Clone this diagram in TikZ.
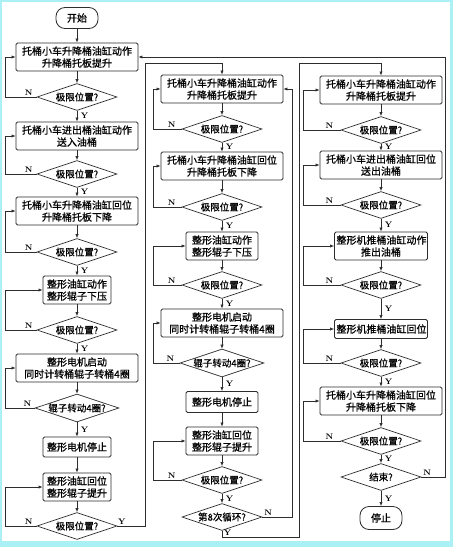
\documentclass[tikz,border=0pt]{standalone}
\usepackage{fontspec}
\newfontfamily\cjk[FakeBold=0.8]{Noto Sans CJK SC}
\usetikzlibrary{shapes.geometric,arrows.meta,positioning,calc}
\definecolor{framecyan}{RGB}{170,240,245}
\definecolor{inkgray}{RGB}{45,45,45}

\tikzset{
  procbox/.style={draw=inkgray, line width=0.8pt, rounded corners=1.5pt, align=center,
    text width=#1, inner xsep=2pt, inner ysep=1pt, minimum height=28pt,
    font=\cjk\fontsize{10}{12}\selectfont},
  procbox/.default=64pt,
  widebox/.style={procbox=118pt},
  decision/.style={diamond, draw=inkgray, line width=0.7pt, aspect=3, inner sep=0pt,
    minimum width=80pt, minimum height=27pt, font=\cjk\fontsize{9.5}{11}\selectfont},
  terminal/.style={draw=inkgray, line width=0.8pt, rounded corners=9pt, minimum width=42pt,
    minimum height=21pt, inner sep=1pt, font=\cjk\fontsize{10}{12}\selectfont},
  flow/.style={draw=inkgray, line width=0.6pt, -{Latex[length=4pt,width=3.2pt]}},
  yn/.style={font=\bfseries\fontsize{8}{8}\selectfont, inner sep=1.5pt}
}

\begin{document}
\begin{tikzpicture}[x=1pt, y=-1pt]
\useasboundingbox (0,0) rectangle (453,547);
\fill[framecyan] (0,0) rectangle (453,547); % frame
\fill[white] (2,1.5) rectangle (450,541);

% Column 1
\node[terminal] (c1start) at (77,18) {开始};
\node[widebox] (c1b1) at (77,57) {托桶小车升降桶油缸动作\\升降桶托板提升};
\node[decision] (c1d1) at (77,97) {极限位置?};
\node[widebox] (c1b2) at (77,136) {托桶小车进出桶油缸动作\\送入油桶};
\node[decision] (c1d2) at (77,174) {极限位置?};
\node[widebox] (c1b3) at (77,211) {托桶小车升降桶油缸回位\\升降桶托板下降};
\node[decision] (c1d3) at (77,252) {极限位置?};
\node[procbox] (c1b4) at (77,290) {整形油缸动作\\整形辊子下压};
\node[decision] (c1d4) at (77,330) {极限位置?};
\node[widebox] (c1b5) at (77,368) {整形电机启动\\同时计转桶辊子转桶4圈};
\node[decision] (c1d5) at (77,408) {辊子转动4圈?};
\node[procbox, minimum height=20pt] (c1b6) at (77,447) {整形电机停止};
\node[procbox] (c1b7) at (77,487) {整形油缸回位\\整形辊子提升};
\node[decision] (c1d6) at (77,526) {极限位置?};

% Column 2
\node[widebox] (c2b1) at (222,89) {托桶小车升降桶油缸动作\\升降桶托板提升};
\node[decision] (c2d1) at (222,129) {极限位置?};
\node[widebox] (c2b2) at (222,166) {托桶小车升降桶油缸回位\\升降桶托板下降};
\node[decision] (c2d2) at (222,207) {极限位置?};
\node[procbox=68pt] (c2b3) at (222,246) {整形油缸动作\\整形辊子下压};
\node[decision] (c2d3) at (222,285) {极限位置?};
\node[widebox] (c2b4) at (222,323) {整形电机启动\\同时计转桶辊子转桶4圈};
\node[decision] (c2d4) at (222,363) {辊子转动4圈?};
\node[procbox=68pt, minimum height=21pt] (c2b5) at (222,402) {整形电机停止};
\node[procbox=68pt] (c2b6) at (222,441) {整形油缸回位\\整形辊子提升};
\node[decision] (c2d5) at (222,480) {极限位置?};
\node[decision] (c2d6) at (222,517) {第8次循环?};

% Column 3
\node[widebox] (c3b1) at (381,90) {托桶小车升降桶油缸动作\\升降桶托板提升};
\node[decision] (c3d1) at (381,130) {极限位置?};
\node[widebox] (c3b2) at (381,165) {托桶小车进出桶油缸回位\\送出油桶};
\node[decision] (c3d2) at (381,205) {极限位置?};
\node[procbox=89pt] (c3b3) at (381,246) {整形机推桶油缸动作\\推出油桶};
\node[decision] (c3d3) at (381,285) {极限位置?};
\node[procbox=89pt, minimum height=19pt] (c3b4) at (381,329) {整形机推桶油缸回位};
\node[decision] (c3d4) at (381,363) {极限位置?};
\node[widebox] (c3b5) at (381,401) {托桶小车升降桶油缸回位\\升降桶托板下降};
\node[decision] (c3d5) at (381,441) {极限位置?};
\node[decision] (c3d6) at (381,477) {结束?};
\node[terminal, minimum height=23pt] (c3stop) at (381,518) {停止};

% Loop rails
\coordinate (loopA) at (5,0);
\coordinate (loopB) at (153,0);
\coordinate (loopC) at (303,0);
\coordinate (jumpA) at (145,63);
\coordinate (backB) at (292,0);
\coordinate (jumpB) at (299,537);
\coordinate (topB) at (299,63);
\coordinate (backC) at (445,0);

% Column 1 flow
\draw[flow] (c1start) -- (c1b1);
\draw[flow] (c1b1) -- (c1d1);
\draw[flow] (c1d1) -- node[yn,right=2pt]{Y} (c1b2);
\draw[flow] (c1b2) -- (c1d2);
\draw[flow] (c1d2) -- node[yn,right=2pt]{Y} (c1b3);
\draw[flow] (c1b3) -- (c1d3);
\draw[flow] (c1d3) -- node[yn,right=2pt]{Y} (c1b4);
\draw[flow] (c1b4) -- (c1d4);
\draw[flow] (c1d4) -- node[yn,right=2pt]{Y} (c1b5);
\draw[flow] (c1b5) -- (c1d5);
\draw[flow] (c1d5) -- node[yn,right=2pt]{Y} (c1b6);
\draw[flow] (c1b6) -- (c1b7);
\draw[flow] (c1b7) -- (c1d6);
\draw[flow] (c1d1.west) -- node[yn,above,pos=0.25]{N} (c1d1.west -| loopA) |- (c1b1.west);
\draw[flow] (c1d2.west) -- node[yn,above,pos=0.25]{N} (c1d2.west -| loopA) |- (c1b2.west);
\draw[flow] (c1d3.west) -- node[yn,above,pos=0.25]{N} (c1d3.west -| loopA) |- (c1b3.west);
\draw[flow] (c1d4.west) -- node[yn,above,pos=0.25]{N} (c1d4.west -| loopA) |- (c1b4.west);
\draw[flow] (c1d5.west) -- node[yn,above,pos=0.25]{N} (c1d5.west -| loopA) |- (c1b5.west);
\draw[flow] (c1d6.west) -- node[yn,above,pos=0.25]{N} (c1d6.west -| loopA) |- (c1b7.west);
\draw[flow] (c1d6.east) -| node[yn,above,pos=0.08]{Y} (jumpA) -| (c2b1.north);

% Column 2 flow
\draw[flow] (c2b1) -- (c2d1);
\draw[flow] (c2d1) -- node[yn,right=2pt]{Y} (c2b2);
\draw[flow] (c2b2) -- (c2d2);
\draw[flow] (c2d2) -- node[yn,right=2pt]{Y} (c2b3);
\draw[flow] (c2b3) -- (c2d3);
\draw[flow] (c2d3) -- node[yn,right=2pt]{Y} (c2b4);
\draw[flow] (c2b4) -- (c2d4);
\draw[flow] (c2d4) -- node[yn,right=2pt]{Y} (c2b5);
\draw[flow] (c2b5) -- (c2b6);
\draw[flow] (c2b6) -- (c2d5);
\draw[flow] (c2d5) -- node[yn,right=2pt]{Y} (c2d6);
\draw[flow] (c2d1.west) -- node[yn,above,pos=0.35]{N} (c2d1.west -| loopB) |- (c2b1.west);
\draw[flow] (c2d2.west) -- node[yn,above,pos=0.35]{N} (c2d2.west -| loopB) |- (c2b2.west);
\draw[flow] (c2d3.west) -- node[yn,above,pos=0.35]{N} (c2d3.west -| loopB) |- (c2b3.west);
\draw[flow] (c2d4.west) -- node[yn,above,pos=0.35]{N} (c2d4.west -| loopB) |- (c2b4.west);
\draw[flow] (c2d5.west) -- node[yn,above,pos=0.35]{N} (c2d5.west -| loopB) |- (c2b6.west);
\draw[flow] (c2d6.east) -- node[yn,above,pos=0.2]{N} (c2d6.east -| backB) |- (c2b1.east);
\draw[flow] (c2d6.south) |- node[yn,above right,pos=0.5]{Y} (jumpB) -- (topB) -| (c3b1.north);

% Column 3 flow
\draw[flow] (c3b1) -- (c3d1);
\draw[flow] (c3d1) -- node[yn,right=2pt]{Y} (c3b2);
\draw[flow] (c3b2) -- (c3d2);
\draw[flow] (c3d2) -- node[yn,right=2pt]{Y} (c3b3);
\draw[flow] (c3b3) -- (c3d3);
\draw[flow] (c3d3) -- node[yn,right=2pt]{Y} (c3b4);
\draw[flow] (c3b4) -- (c3d4);
\draw[flow] (c3d4) -- node[yn,right=2pt]{Y} (c3b5);
\draw[flow] (c3b5) -- (c3d5);
\draw[flow] (c3d5) -- node[yn,right=2pt]{Y} (c3d6);
\draw[flow] (c3d6) -- node[yn,right=2pt]{Y} (c3stop);
\draw[flow] (c3d1.west) -- node[yn,above,pos=0.3]{N} (c3d1.west -| loopC) |- (c3b1.west);
\draw[flow] (c3d2.west) -- node[yn,above,pos=0.3]{N} (c3d2.west -| loopC) |- (c3b2.west);
\draw[flow] (c3d3.west) -- node[yn,above,pos=0.3]{N} (c3d3.west -| loopC) |- (c3b3.west);
\draw[flow] (c3d4.west) -- node[yn,above,pos=0.3]{N} (c3d4.west -| loopC) |- (c3b4.west);
\draw[flow] (c3d5.west) -- node[yn,above,pos=0.3]{N} (c3d5.west -| loopC) |- (c3b5.west);
\draw[flow] (c3d6.east) -- node[yn,above,pos=0.25]{N} (c3d6.east -| backC) |- (c1b1.east);
\end{tikzpicture}
\end{document}
